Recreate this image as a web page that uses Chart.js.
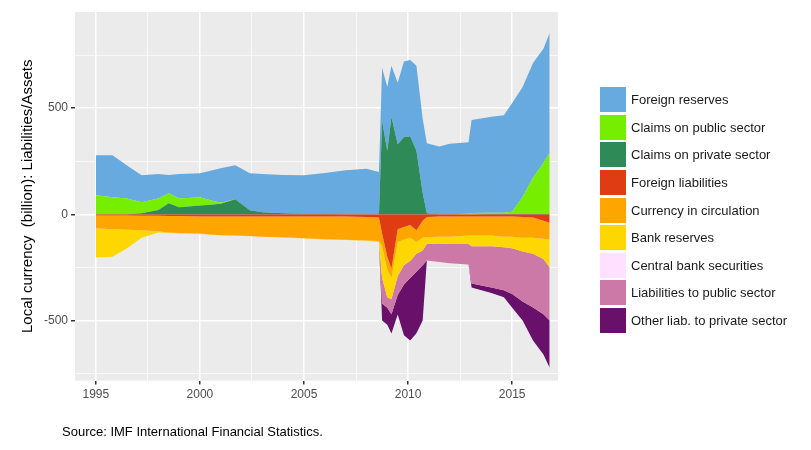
<!DOCTYPE html>
<html><head><meta charset="utf-8">
<script src="https://cdn.jsdelivr.net/npm/chart.js@4"></script>
<style>
html,body{margin:0;padding:0;background:#fff;}
#wrap{position:relative;width:811px;height:450px;}
#src{position:absolute;left:62px;top:424px;font:13px "Liberation Sans",Arial,sans-serif;color:#000;}
#leg{position:absolute;left:600px;top:86px;font:13px "Liberation Sans",Arial,sans-serif;color:#1a1a1a;}
.it{height:27.6px;display:flex;align-items:center;}
.bx{width:26px;height:25px;margin-right:5px;}
</style></head><body>
<div id="wrap"><canvas id="c" width="811" height="450"></canvas>
<div id="leg"></div>
<div id="src">Source: IMF International Financial Statistics.</div></div>
<script>
const years=[1995.0,1995.8,1996.5,1997.2,1998.0,1998.5,1999.0,2000.0,2000.5,2001.0,2001.7,2002.4,2003.0,2004.0,2005.0,2006.0,2007.0,2008.0,2008.6,2008.75,2009.0,2009.2,2009.5,2009.8,2010.1,2010.4,2010.7,2010.9,2011.5,2012.0,2012.9,2013.05,2014.0,2014.6,2015.0,2015.5,2016.0,2016.5,2016.8];
const claimsPrivate=[0,0,0,5,20,52,33,42,45,50,71,19,10,5,3,2,1,1,1,440,300,458,330,363,368,300,100,5,1,1,1,1,2,2,2,2,2,2,2];
const claimsPublic=[90,80,75,52,55,47,42,38,21,5,0,0,0,0,0,0,0,0,0,0,0,0,0,0,0,0,0,0,0,0,2,5,5,5,10,80,170,240,288];
const foreignReserves=[188,198,155,127,115,86,115,113,139,162,160,174,180,180,181,193,207,214,199,250,300,242,290,357,359,400,350,330,319,332,337,438,453,460,512,518,541,538,564];
const foreignLiab=[-5,-6,-6,-7,-7,-8,-8,-10,-10,-10,-10,-10,-10,-10,-10,-10,-10,-12,-15,-90,-200,-255,-70,-60,-50,-75,-30,-12,-10,-10,-10,-10,-10,-10,-10,-12,-15,-30,-40];
const currency=[-61,-64,-66,-68,-73,-77,-80,-80,-85,-88,-90,-92,-95,-98,-103,-107,-110,-111,-110,-60,-60,-45,-60,-60,-60,-55,-80,-96,-95,-95,-90,-90,-90,-95,-95,-98,-95,-85,-80];
const bankReserves=[-137,-130,-88,-35,-5,-3,-2,-2,-1,-1,-1,-1,-1,-1,-1,-1,-1,-1,-5,-150,-130,-100,-160,-120,-110,-55,-60,-32,-32,-35,-40,-50,-50,-50,-55,-65,-75,-95,-130];
const cbSecurities=[0,0,0,0,0,0,0,-2,-2,-2,-2,-2,0,0,0,0,0,0,0,0,0,0,0,0,0,0,0,0,0,0,0,0,0,0,0,0,0,0,0];
const liabPublic=[0,0,0,0,0,0,0,0,0,0,0,0,0,0,0,0,0,0,0,-120,-50,-70,-90,-90,-80,-85,-70,-77,-88,-90,-96,-176,-195,-203,-215,-235,-254,-260,-250];
const otherLiab=[0,0,0,0,0,0,0,0,0,0,0,0,0,0,0,0,0,0,0,-80,-80,-91,-92,-240,-294,-290,-260,0,0,0,0,-18,-25,-33,-65,-90,-155,-190,-222];
const yTicks=[-750,-500,-250,0,250,500,750];
const xTicks=[1995,1997.5,2000,2002.5,2005,2007.5,2010,2012.5,2015];
const legendOrder=["Foreign reserves","Claims on public sector","Claims on private sector","Foreign liabilities","Currency in circulation","Bank reserves","Central bank securities","Liabilities to public sector","Other liab. to private sector"];

function ds(label,vals,color,stack,fill){
  return {label,data:vals.map((v,i)=>({x:years[i],y:v})),backgroundColor:color,borderColor:color,borderWidth:0,pointRadius:0,tension:0,stack,fill};
}
const datasets=[
  ds("Claims on private sector",claimsPrivate,'#2E8B57','pos','origin'),
  ds("Claims on public sector",claimsPublic,'#76EE00','pos','-1'),
  ds("Foreign reserves",foreignReserves,'#67AADF','pos','-1'),
  ds("Foreign liabilities",foreignLiab,'#E03C14','neg','origin'),
  ds("Currency in circulation",currency,'#FFA500','neg','-1'),
  ds("Bank reserves",bankReserves,'#FFD700','neg','-1'),
  ds("Central bank securities",cbSecurities,'#FFE1FF','neg','-1'),
  ds("Liabilities to public sector",liabPublic,'#CD79A7','neg','-1'),
  ds("Other liab. to private sector",otherLiab,'#68106A','neg','-1')
];
const leg=document.getElementById('leg');
legendOrder.forEach(n=>{const d=datasets.find(x=>x.label===n);
  leg.insertAdjacentHTML('beforeend','<div class="it"><div class="bx" style="background:'+d.backgroundColor+'"></div>'+n+'</div>');});
const bg={id:'bg',beforeDraw(c){const a=c.chartArea,x=c.ctx;x.save();x.fillStyle='#EBEBEB';x.fillRect(a.left,a.top,a.right-a.left,a.bottom-a.top);x.restore();}};
const major=(c,m)=>c.tick&&c.tick.value%m===0;
new Chart(document.getElementById('c'),{
  type:'line',
  data:{datasets},
  options:{
    responsive:false,animation:false,
    layout:{padding:{left:15,right:253,top:12,bottom:45}},
    plugins:{tooltip:{enabled:false},legend:{display:false}},
    scales:{
      x:{type:'linear',min:1994,max:2017.2,
        afterBuildTicks:ax=>{ax.ticks=xTicks.map(v=>({value:v}));},
        ticks:{callback:v=>v%5===0?String(v):'',color:'#4D4D4D',font:{family:'"Liberation Sans",Arial',size:12},maxRotation:0,autoSkip:false},
        grid:{color:'#fff',lineWidth:c=>major(c,5)?1.5:0.7,tickColor:c=>major(c,5)?'#333':'rgba(0,0,0,0)',tickLength:4},
        border:{display:false}},
      y:{stacked:true,min:-783,max:953,
        afterBuildTicks:ax=>{ax.ticks=yTicks.map(v=>({value:v}));},
        ticks:{callback:v=>v%500===0?String(v):'',color:'#4D4D4D',font:{family:'"Liberation Sans",Arial',size:12},autoSkip:false},
        grid:{color:'#fff',lineWidth:c=>major(c,500)?1.5:0.7,tickColor:c=>major(c,500)?'#333':'rgba(0,0,0,0)',tickLength:4},
        border:{display:false},
        title:{display:true,text:'Local currency  (billion): Liabilities/Assets',color:'#000',font:{family:'"Liberation Sans",Arial',size:15}}}
    }
  },
  plugins:[bg]
});
</script></body></html>
